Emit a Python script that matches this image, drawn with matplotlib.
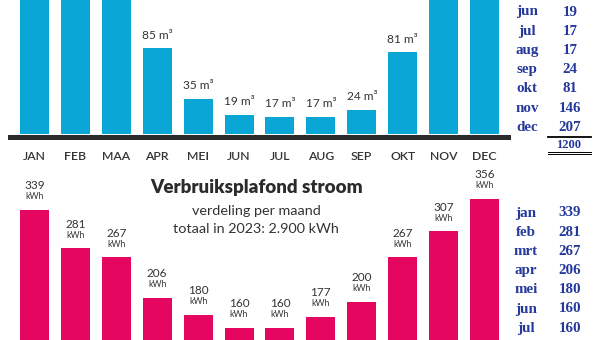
import matplotlib.pyplot as plt
from matplotlib.lines import Line2D

# data
months = ['JAN', 'FEB', 'MAA', 'APR', 'MEI', 'JUN', 'JUL', 'AUG', 'SEP', 'OKT', 'NOV', 'DEC']
table_months = ['jan', 'feb', 'mrt', 'apr', 'mei', 'jun', 'jul', 'aug', 'sep', 'okt', 'nov', 'dec']
gas = [221, 188, 160, 85, 35, 19, 17, 17, 24, 81, 146, 207]
gas_total = 1200
power = [339, 281, 267, 206, 180, 160, 160, 177, 200, 267, 307, 356]

CYAN = '#0aa6d6'
PINK = '#e4065f'
BLUE = '#25389c'
DARK = '#333333'

W, H = 600, 340
fig = plt.figure(figsize=(6, 3.4), dpi=100)
plt.rcParams['font.family'] = ['Lato', 'DejaVu Sans']


def px_axes(left, top, right, bottom):
    return fig.add_axes([left / W, 1 - bottom / H, (right - left) / W, (bottom - top) / H])


def fy(y):
    return 1 - y / H


x = list(range(len(months)))
x0, step = 34.5, 40.91
xlim = ((10 - x0) / step, (508 - x0) / step)

# --- gas chart (top) ---
k_gas = 1.03
ax1 = px_axes(10, 0, 508, 137)
ax1.bar(x, gas, width=0.71, color=CYAN)
ax1.set_xlim(*xlim)
ax1.set_ylim(-3 / k_gas, 137 / k_gas)
for s in ['top', 'left', 'right']:
    ax1.spines[s].set_visible(False)
ax1.spines['bottom'].set_linewidth(3.6)
ax1.spines['bottom'].set_color('#2b2b2b')
ax1.set_yticks([])
ax1.set_xticks(x)
ax1.set_xticklabels(months, fontsize=8.8, color=DARK, fontweight='semibold')
ax1.tick_params(axis='x', length=0, pad=10)
for i, v in enumerate(gas):
    ax1.annotate(f'{v} m³', (i, v), xytext=(0, 9.5), textcoords='offset points',
                 ha='center', va='center', fontsize=8.6, color=DARK)

# --- power chart (bottom) ---
k_pow = 0.659
base = 433.4
ax2 = px_axes(10, 170, 508, base)
ax2.bar(x, power, width=0.71, color=PINK)
ax2.set_xlim(*xlim)
ax2.set_ylim(0, (base - 170) / k_pow)
ax2.axis('off')
for i, v in enumerate(power):
    ax2.annotate(str(v), (i, v), xytext=(0, 17.3), textcoords='offset points',
                 ha='center', va='center', fontsize=8.5, color=DARK)
    ax2.annotate('kWh', (i, v), xytext=(0, 9.4), textcoords='offset points',
                 ha='center', va='center', fontsize=6.3, color=DARK)

fig.text(257 / W, fy(188), 'Verbruiksplafond stroom', ha='center', va='center',
         fontsize=13.5, fontweight='heavy', color='#2b2b2b')
fig.text(256 / W, fy(211), 'verdeling per maand', ha='center', va='center',
         fontsize=10.4, color=DARK)
fig.text(256 / W, fy(229), 'totaal in 2023: 2.900 kWh', ha='center', va='center',
         fontsize=10.4, color=DARK)

# --- tables on the right (only rows that fall inside the picture) ---
serif = ['Liberation Serif', 'DejaVu Serif']
row = 19.2
for i, (m, v) in enumerate(zip(table_months, gas)):
    y = 12 + (i - 5) * row
    if y < 5:
        continue
    fig.text(527 / W, fy(y), m, ha='center', va='center', fontsize=10.8,
             fontweight='bold', color=BLUE, family=serif)
    fig.text(570 / W, fy(y), str(v), ha='center', va='center', fontsize=10.8,
             fontweight='bold', color=BLUE, family=serif)
fig.add_artist(Line2D([548 / W, 591 / W], [fy(137), fy(137)], color='black', lw=1.3))
fig.text(569 / W, fy(145), str(gas_total), ha='center', va='center', fontsize=9,
         fontweight='bold', color=BLUE, family=serif)
fig.add_artist(Line2D([548 / W, 591 / W], [fy(152), fy(152)], color='black', lw=0.7))
fig.add_artist(Line2D([548 / W, 591 / W], [fy(154.5), fy(154.5)], color='black', lw=0.7))

for i, (m, v) in enumerate(zip(table_months, power)):
    y = 213 + i * row
    if y > 335:
        break
    fig.text(526 / W, fy(y), m, ha='center', va='center', fontsize=10.8,
             fontweight='bold', color=BLUE, family=serif)
    fig.text(570 / W, fy(y), str(v), ha='center', va='center', fontsize=10.8,
             fontweight='bold', color=BLUE, family=serif)

fig.savefig('out.png', dpi=100)
